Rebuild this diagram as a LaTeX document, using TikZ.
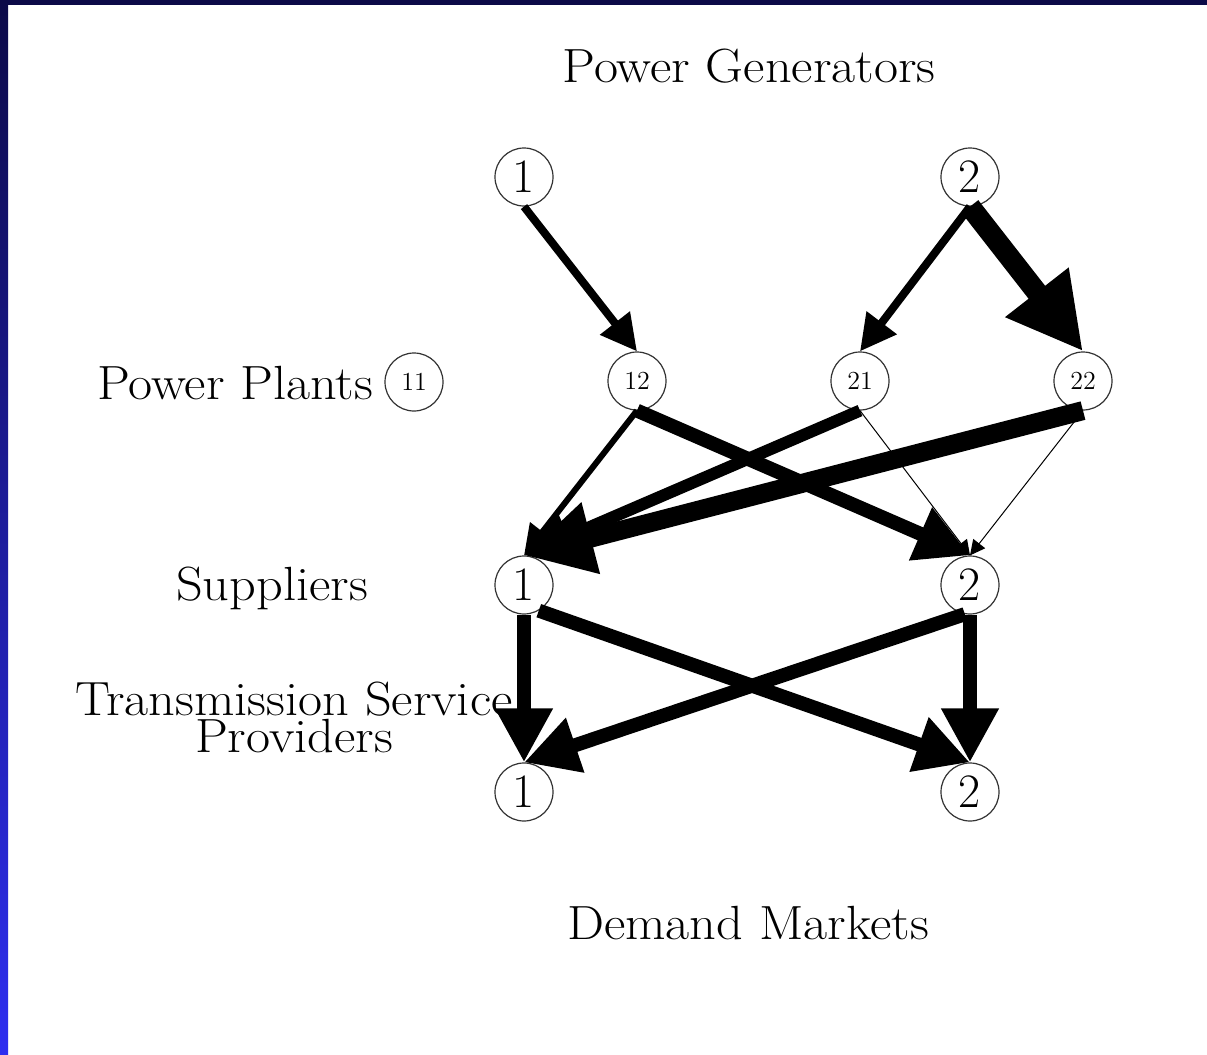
\documentclass[tikz,border=0pt]{standalone}
\usepackage{graphicx}
\usepackage{tikz}
\usetikzlibrary{arrows.meta, positioning}
\definecolor{framenavy}{HTML}{0C0A48}
\definecolor{frameblue}{HTML}{2E2EF0}
\definecolor{ringgray}{HTML}{333333}
\newcommand{\widetext}[1]{\scalebox{1.09}[1]{#1}}

\begin{document}
\begin{tikzpicture}[
    x=0.5pt, y=-0.5pt,
    tier/.style={font=\fontsize{24}{18.5}\selectfont, inner sep=0pt, anchor=base},
    firm/.style={circle, draw=ringgray, line width=0.6pt, minimum size=29pt, inner sep=0pt, font=\fontsize{#1}{#1}\selectfont},
    flow/.style={line width=#1, -{Triangle[length=6pt 3, width=6pt 3]}},
]

% Frame
\useasboundingbox (0,0) rectangle (1207,1055);
\fill[white] (0,0) rectangle (1207,1055);
\fill[framenavy] (0,0) rectangle (1207,5);
\shade[top color=framenavy, bottom color=frameblue] (0,0) rectangle (8,1055);

% Tier labels
\node[tier] (gen) at (749,82) {\widetext{Power Generators}};
\node[tier] (plants) at (235,399) {\widetext{Power Plants}};
\node[tier] (supp) at (272,600) {\widetext{Suppliers}};
\node[tier, anchor=north, align=center] (tsp) at (294,682) {\widetext{Transmission Service}\\\widetext{Providers}};
\node[tier] (dem) at (748,939) {\widetext{Demand Markets}};

% Power generators
\node[firm=24] (g1) at (524,177) {1};
\node[firm=24] (g2) at (970,177) {2};

% Power plants
\node[firm=13] (p11) at (414,382) {11};
\node[firm=13] (p12) at (637,381) {12};
\node[firm=13] (p21) at (860,381) {21};
\node[firm=13] (p22) at (1083,381) {22};

% Suppliers
\node[firm=24] (s1) at (524,585) {1};
\node[firm=24] (s2) at (970,585) {2};

% Demand markets
\node[firm=24] (d1) at (524,792) {1};
\node[firm=24] (d2) at (970,792) {2};

% Generators to plants
\draw[flow=4pt] (g1.south) -- (p12.north);
\draw[flow=4pt] (g2.south) -- (p21.north);
\draw[flow=10.5pt] (g2.south) -- (p22.north);

% Plants to suppliers
\draw[flow=0.5pt] (p21.south) -- (s2.north);
\draw[flow=0.5pt] (p22.south) -- (s2.north);
\draw[flow=3pt] (p12.south) -- (s1.north);
\draw[flow=7pt] (p12.south) -- (s2.north);
\draw[flow=6pt] (p21.south) -- (s1.north);
\draw[flow=9.5pt] (p22.south) -- (s1.north);

% Suppliers to demand markets
\draw[flow=7pt] (s1.south) -- (d1.north);
\draw[flow=7pt] (s1.-60) -- (d2.north);
\draw[flow=7pt] (s2.-100) -- (d1.north);
\draw[flow=7pt] (s2.south) -- (d2.north);

\end{tikzpicture}
\end{document}
